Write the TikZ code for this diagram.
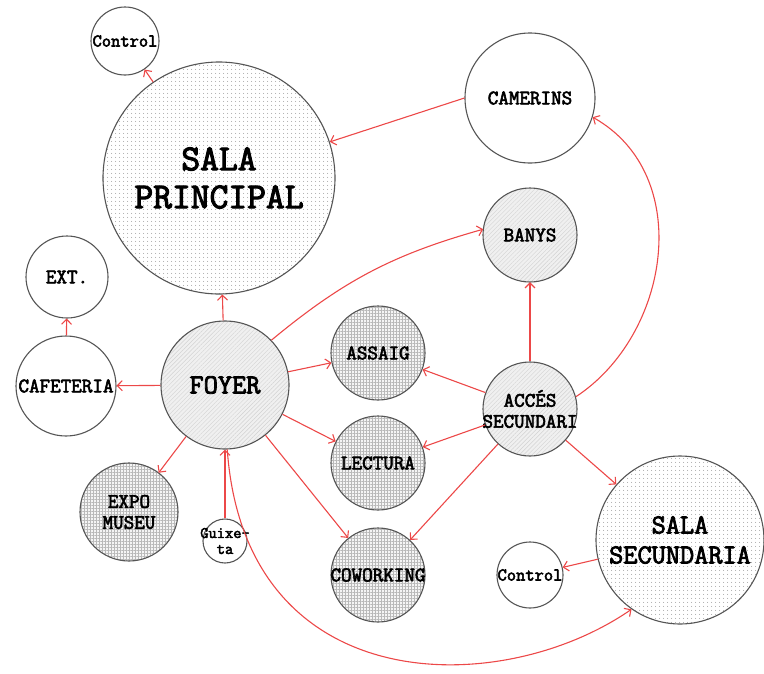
\documentclass[tikz,border=0pt]{standalone}
\usepackage{fontspec}
\newfontfamily\cour{Latin Modern Mono}[FakeBold=3]
\usetikzlibrary{arrows.meta,patterns.meta}
\definecolor{edgec}{RGB}{236,72,72}
\definecolor{bord}{RGB}{85,85,85}
\begin{document}
\begin{tikzpicture}[x=1pt,y=-1pt,
  room/.style={circle,draw=bord,line width=1.1pt,inner sep=0pt,fill=white},
  lbl/.style={align=center,text=black,inner sep=0pt},
  fA/.style={font=\cour\fontsize{36.5}{38}\selectfont},
  fB/.style={font=\cour\fontsize{27.5}{30}\selectfont},
  fC/.style={font=\cour\fontsize{20.5}{21}\selectfont},
  fD/.style={font=\cour\fontsize{18}{18}\selectfont},
  fE/.style={font=\cour\fontsize{16}{16}\selectfont},
  dotsfill/.style={preaction={fill=white},pattern={Dots[distance=4pt,radius=0.6pt]},pattern color=gray!80},
  gridfill/.style={preaction={fill=gray!8},pattern={Hatch[distance=3pt,line width=0.35pt]},pattern color=gray!55},
  linesfill/.style={preaction={fill=gray!12},pattern={Lines[angle=45,distance=3pt,line width=0.4pt]},pattern color=gray!35},
  conn/.style={draw=edgec,line width=1.1pt,-{Straight Barb[length=5pt,width=10pt]}},
]
\useasboundingbox (0,0) rectangle (764,673);

\node[room,dotsfill,minimum size=232pt,label={[lbl,fA]center:{SALA\\PRINCIPAL}}] (spr) at (219,178) {};
\node[room,minimum size=68pt,label={[lbl,fD]center:Control}] (ctl1) at (125,41) {};
\node[room,minimum size=130pt,label={[lbl,fC]center:CAMERINS}] (cam) at (530,98) {};
\node[room,linesfill,minimum size=94pt,label={[lbl,fC]center:BANYS}] (ban) at (530,235) {};
\node[room,minimum size=82pt,label={[lbl,fC]center:EXT.}] (ext) at (67,277) {};
\node[room,minimum size=100pt,label={[lbl,fC]center:CAFETERIA}] (caf) at (66,386) {};
\node[room,linesfill,minimum size=128pt,label={[lbl,fB]center:FOYER}] (foy) at (225,385) {};
\node[room,gridfill,minimum size=98pt,label={[lbl,fC]center:{EXPO\\MUSEU}}] (exp) at (129,512) {};
\node[room,minimum size=44pt,label={[lbl,fE]center:{Guixe-\\ta}}] (gui) at (225,541) {};
\node[room,gridfill,minimum size=94pt,label={[lbl,fC]center:ASSAIG}] (ass) at (378,353) {};
\node[room,gridfill,minimum size=94pt,label={[lbl,fC]center:LECTURA}] (lec) at (378,463) {};
\node[room,gridfill,minimum size=94pt,label={[lbl,fC]center:COWORKING}] (cow) at (378,575) {};
\node[room,linesfill,minimum size=94pt,label={[lbl,fC]center:{ACCÉS\\SECUNDARI}}] (acc) at (530,409) {};
\node[room,minimum size=66pt,label={[lbl,fD]center:Control}] (ctl2) at (530,575) {};
\node[room,dotsfill,minimum size=168pt,label={[lbl,fB]center:{SALA\\SECUNDARIA}}] (ssec) at (680,540) {};

\draw[conn] (spr) -- (ctl1);
\draw[conn] (cam.west) -- (spr);
\draw[conn] (foy) -- (spr);
\draw[conn] (foy.44) to[bend left=12] (ban.173);
\draw[conn] (foy) -- (ass);
\draw[conn] (foy) -- (lec);
\draw[conn] (foy) -- (cow);
\draw[conn] (foy) -- (caf);
\draw[conn] (foy) -- (exp);
\draw[conn] (caf) -- (ext);
\draw[conn] (gui) -- (foy);
\draw[conn] (foy.-88) .. controls (245,700) and (500,700) .. (ssec.-125);
\draw[conn] (acc) -- (ban);
\draw[conn] (acc) -- (ass);
\draw[conn] (acc) -- (lec);
\draw[conn] (acc) -- (cow);
\draw[conn] (acc) -- (ssec);
\draw[conn] (acc.15) .. controls (670,335) and (695,175) .. (cam.-17);
\draw[conn] (ssec) -- (ctl2);
\end{tikzpicture}
\end{document}
